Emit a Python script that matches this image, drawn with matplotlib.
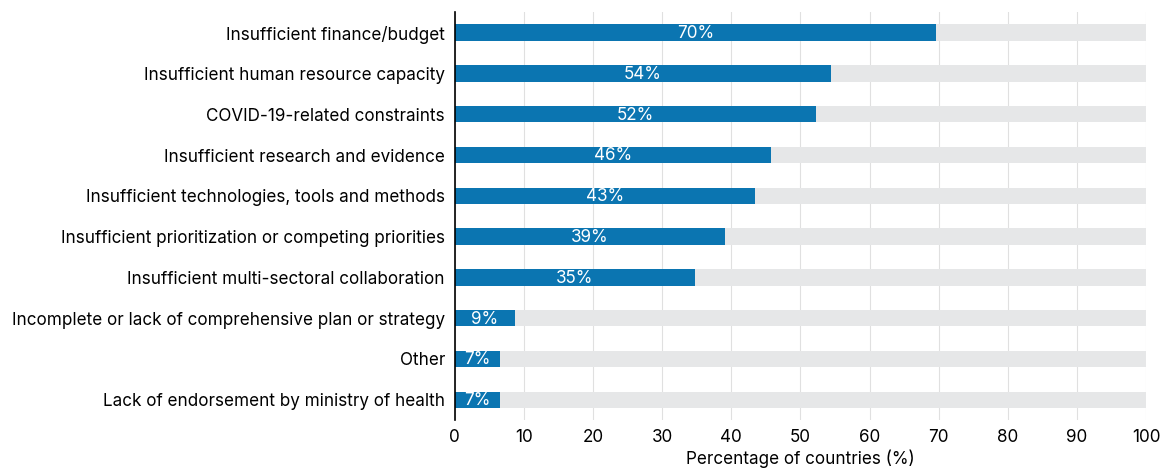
import matplotlib.pyplot as plt

plt.rcParams["font.family"] = ["Inter", "DejaVu Sans"]

# Barriers, top to bottom as they appear on the chart
barriers = [
    "Insufficient finance/budget",
    "Insufficient human resource capacity",
    "COVID-19-related constraints",
    "Insufficient research and evidence",
    "Insufficient technologies, tools and methods",
    "Insufficient prioritization or competing priorities",
    "Insufficient multi-sectoral collaboration",
    "Incomplete or lack of comprehensive plan or strategy",
    "Other",
    "Lack of endorsement by ministry of health",
]
values = [69.6, 54.4, 52.2, 45.7, 43.4, 39.1, 34.7, 8.7, 6.5, 6.5]
labels = ["70%", "54%", "52%", "46%", "43%", "39%", "35%", "9%", "7%", "7%"]
xticks = [0, 10, 20, 30, 40, 50, 60, 70, 80, 90, 100]

BLUE = "#0b75b1"
GREY = "#e6e7e8"

fig = plt.figure(figsize=(11.6, 4.7), dpi=100)
ax = fig.add_axes([0.392, 0.106, 0.596, 0.868])

ypos = list(range(len(barriers)))
ax.barh(ypos, [100] * len(barriers), height=0.4, color=GREY, zorder=2)
ax.barh(ypos, values, height=0.4, color=BLUE, zorder=3)
for y, v, lab in zip(ypos, values, labels):
    ax.text(v / 2, y + 0.02, lab, color="white", fontsize=12.3, ha="center", va="center", zorder=4)

ax.set_ylim(len(barriers) - 0.5, -0.5)
ax.set_xlim(0, 100)
ax.set_yticks(ypos)
ax.set_yticklabels(barriers, fontsize=12.3)
ax.set_xticks(xticks)
ax.tick_params(axis="x", labelsize=12.3, length=0, pad=6)
ax.tick_params(axis="y", length=0, pad=7)
ax.grid(axis="x", color="#e0e0e0", linewidth=0.8, zorder=0)
ax.set_axisbelow(True)
for side in ["top", "right", "bottom"]:
    ax.spines[side].set_visible(False)
ax.spines["left"].set_color("black")
ax.spines["left"].set_linewidth(1.2)
ax.spines["left"].set_zorder(5)
ax.set_xlabel("Percentage of countries (%)", fontsize=12.3, labelpad=3)

fig.savefig("out.png", dpi=100)
